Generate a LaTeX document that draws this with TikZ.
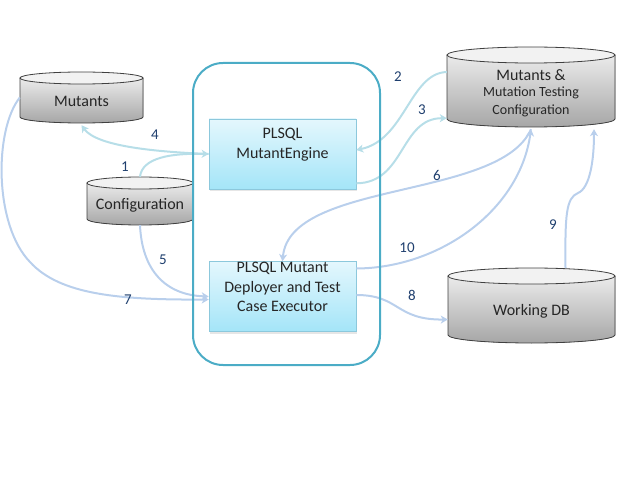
\documentclass[tikz,border=0pt]{standalone}
\usepackage{fontspec}
\setmainfont{Carlito}
\usetikzlibrary{arrows.meta,shadows}
\definecolor{frame}{HTML}{4BACC6}
\definecolor{boxtop}{HTML}{E4F7FD}
\definecolor{boxbot}{HTML}{A4E5F8}
\definecolor{boxline}{HTML}{8CC8DC}
\definecolor{cyl}{HTML}{404040}
\definecolor{cyltop}{HTML}{EBEBEB}
\definecolor{cylbot}{HTML}{A6A6A6}
\definecolor{cylcap}{HTML}{F2F2F2}
\definecolor{arcyan}{HTML}{B7DEE8}
\definecolor{arblue}{HTML}{B9CFEC}
\definecolor{numcol}{HTML}{1F3F6E}
\newcommand\dbcyl[6]{%
  \fill[top color=cyltop,bottom color=cylbot] (#2,#5-#6) -- (#2,#3+#6)
    arc[start angle=180,end angle=360,x radius={(#4-#2)/2},y radius=#6] -- (#4,#5-#6) -- cycle;
  \draw[cyl,line width=0.8pt] (#2,#5-#6) -- (#2,#3+#6)
    arc[start angle=180,end angle=360,x radius={(#4-#2)/2},y radius=#6] -- (#4,#5-#6);
  \draw[cyl,line width=0.8pt,fill=cylcap] ({(#2+#4)/2},#5-#6) ellipse[x radius={(#4-#2)/2},y radius=#6];
  \node[inner sep=0pt,minimum width={(#4-#2)*1pt},minimum height={(#5-#3)*1pt}] (#1) at ({(#2+#4)/2},{(#3+#5)/2}) {};
}
\tikzset{
  procbox/.style={draw=boxline,line width=0.6pt,top color=boxtop,bottom color=boxbot,
    minimum width=147pt,minimum height=70pt,inner sep=0pt,
    drop shadow={opacity=0.2,shadow xshift=1pt,shadow yshift=-2pt}},
  boxtext/.style={align=center,font=\fontsize{16}{19.5}\selectfont,text=black!85},
  cyltext/.style={align=center,font=\fontsize{16}{18}\selectfont,text=black!85},
  num/.style={font=\fontsize{15}{17}\selectfont,text=numcol},
  flowc/.style={draw=arcyan,line width=2pt,-{Stealth[length=7pt,width=8pt,inset=2pt]}},
  flowb/.style={draw=arblue,line width=2pt,-{Stealth[length=7pt,width=8pt,inset=2pt]}},
}
\begin{document}
\begin{tikzpicture}[x=1pt,y=1pt]
\useasboundingbox (0,0) rectangle (640,480);
% cylinders
\dbcyl{mut}{20}{357}{143}{408}{6}
\dbcyl{cfg}{87}{255}{193}{303}{6}
\dbcyl{mtc}{447}{353}{615}{433}{8}
\dbcyl{wdb}{448}{137}{615}{212}{8}
\node[cyltext] (muttxt) at (81.5,379) {Mutants};
\node[cyltext] (cfgtxt) at (140,275) {Configuration};
\node[cyltext] (mtctxt1) at (531,405) {Mutants \&};
\node[align=center,font=\fontsize{14}{17.5}\selectfont,text=black!85] (mtctxt2) at (531,378) {Mutation Testing\\Configuration};
\node[cyltext] (wdbtxt) at (531.5,169) {Working DB};
% process boxes
\node[procbox] (eng) at (282.5,326) {};
\node[procbox] (dep) at (282.5,183.5) {};
\node[boxtext] (engtxt) at (282.5,335.5) {PLSQL\\MutantEngine};
\node[boxtext] (deptxt) at (282.5,193) {PLSQL Mutant\\Deployer and Test\\Case Executor};
% connectors
\draw[flowc] (cfg.north) .. controls (142,322) and (170,327) .. (eng.west);
\draw[flowc] (eng.west) .. controls (160,328) and (97,333) .. ([yshift=-2pt]mut.south);
\draw[flowc] ([yshift=15pt]mtc.west) .. controls (410,407) and (405,340) .. ([yshift=4pt]eng.east);
\draw[flowc] ([yshift=6pt]eng.south east) .. controls (405,297) and (400,362) .. ([yshift=9pt]mtc.south west);
\draw[flowb] ([yshift=-2pt]mtc.south) .. controls (500,280) and (290,300) .. (dep.north);
\draw[flowb] ([yshift=28pt]dep.east) .. controls (440,212) and (520,270) .. ([yshift=-2pt]mtc.south);
\draw[flowb] (cfg.south) .. controls (142,210) and (165,185) .. (dep.west);
\draw[flowb] (mut.west) .. controls (-6,350) and (-6,255) .. (30,218) .. controls (60,185) and (120,180) .. ([yshift=-3pt]dep.west);
\draw[flowb] ([yshift=1.5pt]dep.east) .. controls (400,185) and (395,160) .. ([yshift=-14pt]wdb.west);
\draw[flowb] ([xshift=34pt]wdb.north) .. controls (565,265) and (566,282) .. (578,287) .. controls (590,292) and (594,320) .. ([xshift=63pt,yshift=-2pt]mtc.south);
% container
\draw[frame,line width=2pt,rounded corners=30pt] (193,115) rectangle (380,417);
% numbers
\node[num] (n1) at (125,313) {1};
\node[num] (n2) at (398,403) {2};
\node[num] (n3) at (422,370) {3};
\node[num] (n4) at (155,345) {4};
\node[num] (n5) at (163,220) {5};
\node[num] (n6) at (437,305) {6};
\node[num] (n7) at (128,180) {7};
\node[num] (n8) at (412,185) {8};
\node[num] (n9) at (553,255) {9};
\node[num] (n10) at (407,232) {10};
\end{tikzpicture}
\end{document}
